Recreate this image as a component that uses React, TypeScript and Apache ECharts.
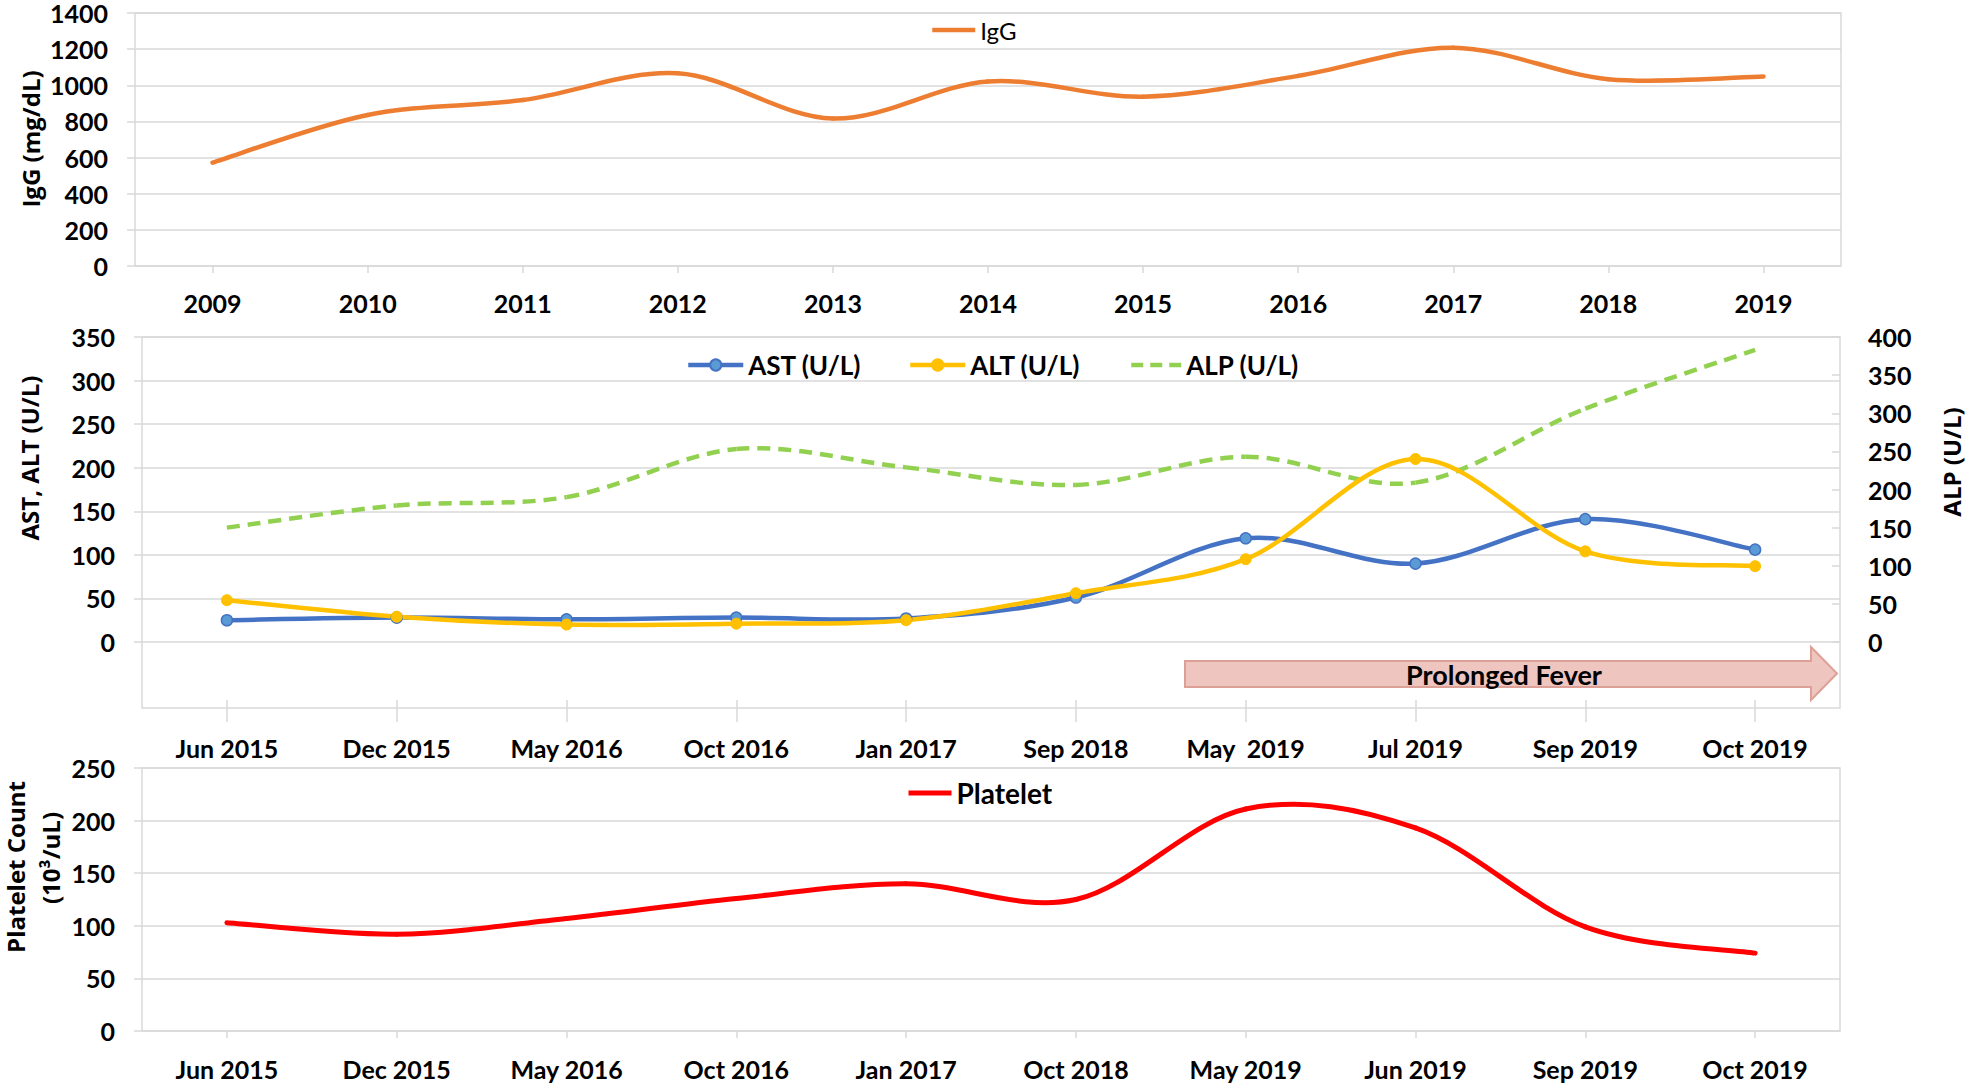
import React, { useEffect, useRef } from 'react';
import * as echarts from 'echarts';

// ---- Data ----
const iggYears = ['2009', '2010', '2011', '2012', '2013', '2014', '2015', '2016', '2017', '2018', '2019'];
const iggValues = [572, 836, 918, 1066, 816, 1021, 937, 1052, 1208, 1034, 1049];

const liverDates = ['Jun 2015', 'Dec 2015', 'May 2016', 'Oct 2016', 'Jan 2017', 'Sep 2018', 'May  2019', 'Jul 2019', 'Sep 2019', 'Oct 2019'];
const astValues = [25, 28, 26, 28, 27, 51, 119, 90, 141, 106];
const altValues = [48, 29, 20, 21, 25, 56, 95, 210, 104, 87];
const alpValues = [150, 179, 190, 253, 229, 206, 243, 209, 306, 383];

const plateletDates = ['Jun 2015', 'Dec 2015', 'May 2016', 'Oct 2016', 'Jan 2017', 'Oct 2018', 'May 2019', 'Jun 2019', 'Sep 2019', 'Oct 2019'];
const plateletValues = [103, 92, 107, 126, 140, 125, 211, 193, 99, 74];

const FONT = 'Lato, "Noto Sans", sans-serif';
const TITLE_FONT = '"Open Sans", "Noto Sans", sans-serif';
const GRID_COLOR = '#D9D9D9';

// Excel-like (Catmull-Rom) smoothed curve, drawn segment by segment through the axes' scales
const smoothRender = (values: number[], stroke: string, width: number, dash?: number[]) =>
  (params: any, api: any) => {
    const i = params.dataIndex;
    const n = values.length;
    if (i >= n - 1) return null;
    const pt = (k: number) => {
      const c = Math.max(0, Math.min(n - 1, k));
      return api.coord([c, values[c]]);
    };
    const p0 = pt(i - 1), p1 = pt(i), p2 = pt(i + 1), p3 = pt(i + 2);
    return {
      type: 'bezierCurve',
      silent: true,
      shape: {
        x1: p1[0], y1: p1[1], x2: p2[0], y2: p2[1],
        cpx1: p1[0] + (p2[0] - p0[0]) / 6, cpy1: p1[1] + (p2[1] - p0[1]) / 6,
        cpx2: p2[0] - (p3[0] - p1[0]) / 6, cpy2: p2[1] - (p3[1] - p1[1]) / 6,
      },
      style: { stroke, lineWidth: width, fill: 'none', lineDash: dash, lineCap: dash ? 'butt' : 'round' },
    };
  };

const curve = (values: number[], xAxisIndex: number, yAxisIndex: number, stroke: string, width: number, dash?: number[]) => ({
  type: 'custom', xAxisIndex, yAxisIndex, clip: false, silent: true,
  data: values.map((v, i) => [i, v]),
  encode: { x: 0, y: 1 },
  renderItem: smoothRender(values, stroke, width, dash),
});

export default function App() {
  const ref = useRef<HTMLDivElement>(null);

  useEffect(() => {
    const chart = echarts.init(ref.current!, null, { renderer: 'svg' });
    const tickLabel = { color: '#000', fontFamily: FONT, fontWeight: 'bold' as const, fontSize: 25 };
    const plain = (v: number) => String(v);

    const catAxis = (gridIndex: number, data: string[], margin: number, tickLen: number, offset = 0) => ({
      type: 'category', gridIndex, data, boundaryGap: true, offset,
      axisLine: { show: false, onZero: false },
      axisTick: { show: true, alignWithLabel: true, length: tickLen, lineStyle: { color: GRID_COLOR, width: 1.5 } },
      axisLabel: { ...tickLabel, margin, interval: 0 },
      splitLine: { show: false },
    });
    const valAxis = (gridIndex: number, max: number, interval: number) => ({
      type: 'value', gridIndex, min: 0, max, interval, position: 'left',
      axisLine: { show: false },
      axisTick: { show: true, length: 8, lineStyle: { color: GRID_COLOR, width: 1.5 } },
      axisLabel: { ...tickLabel, margin: 27, formatter: plain, lineHeight: 22 },
      splitLine: { show: true, lineStyle: { color: GRID_COLOR, width: 1.5 } },
    });

    const legendBase = (width: number) => ({ padding: 0, itemHeight: 14, orient: 'horizontal', lineStyle: { opacity: 1, width } });
    const noSymbol = { itemStyle: { opacity: 0 } };

    const titleText = (text: string, x: number, y: number) => ({
      type: 'text', x, y, rotation: Math.PI / 2, silent: true,
      style: { text, fill: '#000', fontFamily: TITLE_FONT, fontWeight: 'bold', fontSize: 24, align: 'center', verticalAlign: 'middle' },
    });

    const legendSeries = (name: string, xAxisIndex: number, yAxisIndex: number, data: number[], color: string, width: number, extra: any = {}) => ({
      type: 'line', name, xAxisIndex, yAxisIndex, data, symbol: 'none',
      lineStyle: { color, width, opacity: 0 }, itemStyle: { color }, ...extra,
    });

    chart.setOption({
      animation: false,
      backgroundColor: '#fff',
      grid: [
        { left: 135, right: 125, top: 13, height: 253, show: true, borderColor: GRID_COLOR, borderWidth: 1.5, backgroundColor: 'transparent' },
        { left: 142, right: 126, top: 337, height: 305 },
        { left: 142, right: 126, top: 768, height: 263, show: true, borderColor: GRID_COLOR, borderWidth: 1.5, backgroundColor: 'transparent' },
      ],
      xAxis: [
        catAxis(0, iggYears, 24, 7),
        catAxis(1, liverDates, 35, 22, 58),
        catAxis(2, plateletDates, 25, 7),
      ],
      yAxis: [
        valAxis(0, 1400, 200),
        valAxis(1, 350, 50),
        {
          type: 'value', gridIndex: 1, min: 0, max: 400, interval: 50, position: 'right',
          axisLine: { show: false },
          axisTick: { show: true, inside: true, length: 8, lineStyle: { color: GRID_COLOR, width: 1.5 } },
          axisLabel: { ...tickLabel, margin: 28, formatter: plain, lineHeight: 22 },
          splitLine: { show: false },
        },
        valAxis(2, 250, 50),
      ],
      legend: [
        { ...legendBase(4.5), ...noSymbol, data: ['IgG'], left: 930, top: 18, itemWidth: 43, textStyle: { fontFamily: FONT, fontSize: 24, color: '#000' } },
        { ...legendBase(4.5), data: ['AST (U/L)'], left: 686, top: 352, itemWidth: 55, textStyle: { fontFamily: FONT, fontWeight: 'bold', fontSize: 26, color: '#000' } },
        { ...legendBase(4.5), data: ['ALT (U/L)'], left: 908, top: 352, itemWidth: 55, textStyle: { fontFamily: FONT, fontWeight: 'bold', fontSize: 26, color: '#000' } },
        { ...legendBase(4.5), ...noSymbol, data: ['ALP (U/L)'], left: 1129, top: 352, itemWidth: 50, textStyle: { fontFamily: FONT, fontWeight: 'bold', fontSize: 26, color: '#000' } },
        { ...legendBase(5), ...noSymbol, data: ['Platelet'], left: 906, top: 779, itemWidth: 43, textStyle: { fontFamily: FONT, fontWeight: 'bold', fontSize: 28, color: '#000' } },
      ],
      series: [
        // smoothed curves
        curve(iggValues, 0, 0, '#ED7D31', 4.5),
        curve(alpValues, 1, 2, '#92D050', 4.5, [13, 8]),
        curve(astValues, 1, 1, '#4472C4', 4.5),
        curve(altValues, 1, 1, '#FFC000', 4.5),
        curve(plateletValues, 2, 3, '#FF0000', 5),
        // named series (legend entries + markers)
        legendSeries('IgG', 0, 0, iggValues, '#ED7D31', 4.5),
        legendSeries('ALP (U/L)', 1, 2, alpValues, '#92D050', 4.5, { lineStyle: { color: '#92D050', width: 4.5, opacity: 0, type: [12, 7] } }),
        legendSeries('AST (U/L)', 1, 1, astValues, '#4472C4', 4.5, {
          symbol: 'circle', symbolSize: 11, showSymbol: true,
          itemStyle: { color: '#5B9BD5', borderColor: '#4472C4', borderWidth: 1.5 },
        }),
        legendSeries('ALT (U/L)', 1, 1, altValues, '#FFC000', 4.5, {
          symbol: 'circle', symbolSize: 11, showSymbol: true,
          itemStyle: { color: '#FFC000', borderColor: '#FFC000', borderWidth: 1 },
        }),
        legendSeries('Platelet', 2, 3, plateletValues, '#FF0000', 5),
      ],
      graphic: [
        {
          type: 'rect', silent: true, z: -1,
          shape: { x: 142, y: 337, width: 1698, height: 371 },
          style: { fill: 'none', stroke: GRID_COLOR, lineWidth: 1.5 },
        },
        {
          type: 'polygon', silent: true,
          shape: { points: [[1185, 661], [1811, 661], [1811, 647], [1837, 673.5], [1811, 700], [1811, 687], [1185, 687]] },
          style: { fill: '#EEC5BF', stroke: '#DDA097', lineWidth: 2 },
        },
        {
          type: 'text', x: 1504, y: 674, silent: true,
          style: { text: 'Prolonged Fever', fill: '#000', fontFamily: FONT, fontWeight: 'bold', fontSize: 27, align: 'center', verticalAlign: 'middle' },
        },
        titleText('IgG (mg/dL)', 30, 139),
        titleText('AST, ALT (U/L)', 29, 458),
        titleText('ALP (U/L)', 1951, 462),
        titleText('Platelet Count', 15, 867),
        titleText('(10³/uL)', 50, 858),
      ],
    });

    return () => chart.dispose();
  }, []);

  return (
    <div
      ref={ref}
      style={{ position: 'fixed', left: 0, top: 0, width: 1966, height: 1085, background: '#fff' }}
    />
  );
}
